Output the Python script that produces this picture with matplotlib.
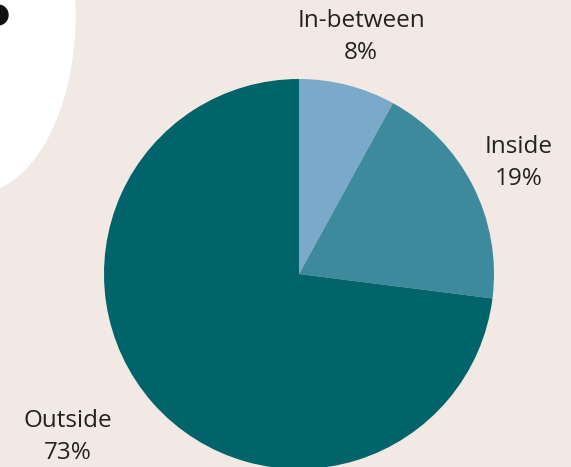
import numpy as np
import matplotlib.pyplot as plt
from matplotlib.patches import Ellipse, Circle

labels = ['In-between', 'Inside', 'Outside']
shares = [8, 19, 73]
colors = ['#7aa9c9', '#3c8a9b', '#02646b']

W, H = 571, 467
bg = '#f2e9e4'

# label anchors in pixels from the top-left corner
label_xy = [(361, 37), (519, 163), (68, 437)]

fig = plt.figure(figsize=(W / 100, H / 100), dpi=100)
fig.patch.set_facecolor(bg)
ax = fig.add_axes([0, 0, 1, 1])

# decorative white blob and black dot, top left
ax.add_patch(Ellipse((-25, H - 15), 200, 356, color='white', zorder=0))
ax.add_patch(Circle((-2, H - 15), 10, color='#111111', zorder=1))

cx, cy, r = 299, H - 274, 195
wedges, _ = ax.pie(shares, colors=colors, startangle=90, counterclock=False,
                   center=(cx, cy), radius=r, frame=True)
ax.set_xlim(0, W)
ax.set_ylim(0, H)
ax.set_aspect('equal')
ax.axis('off')

for lab, pct, (x, y) in zip(labels, shares, label_xy):
    ax.text(x, H - y, f'{lab}\n{pct}%', ha='center', va='center',
            fontsize=17.5, family='Open Sans', color='#222222',
            linespacing=1.4)

plt.savefig('out.png', dpi=100, facecolor=bg)
